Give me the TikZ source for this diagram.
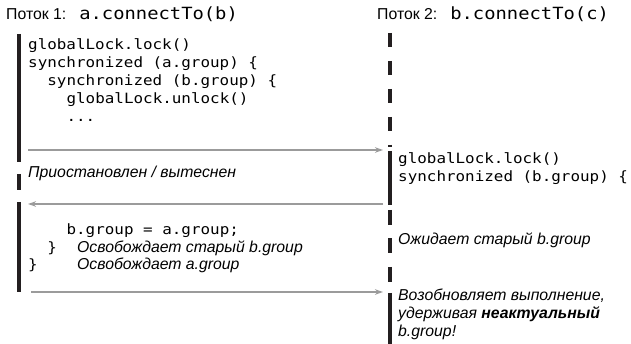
\documentclass[tikz,border=0pt]{standalone}
\usepackage{fontspec}
\setmainfont{Liberation Sans}
\newfontfamily\codef[FakeStretch=1.12]{DejaVu Sans Mono}
\usetikzlibrary{arrows.meta}
\definecolor{barc}{RGB}{35,31,32}
\definecolor{arrc}{RGB}{155,155,155}
\begin{document}
\begin{tikzpicture}[x=1pt,y=-1pt,
  txt/.style={inner sep=0pt, anchor=base west, font=\fontsize{15.8}{18}\selectfont},
  lbl/.style={inner sep=0pt, anchor=base west, font=\fontsize{15.8}{18}\selectfont\itshape},
  code/.style={inner sep=0pt, anchor=base west, font=\fontsize{14.2}{18}\selectfont\codef},
  bar/.style={line width=4pt, draw=barc},
  dbar/.style={bar, dash pattern=on 14pt off 14pt},
  msg/.style={line width=2.7pt, draw=arrc, -{Stealth[length=8pt,width=5.5pt]}}]
\useasboundingbox (0,0) rectangle (631,344);
% titles
\node[txt] (t1) at (6,20) {Поток 1:\hspace{13pt}{\fontsize{16.8}{18}\selectfont\codef a.connectTo(b)}};
\node[txt] (t2) at (377,20) {Поток 2:\hspace{13pt}{\fontsize{16.8}{18}\selectfont\codef b.connectTo(c)}};
% thread 1 lifeline
\coordinate (a1) at (19,34);  \coordinate (a2) at (19,162);
\coordinate (a3) at (19,174); \coordinate (a4) at (19,190);
\coordinate (a5) at (19,202); \coordinate (a6) at (19,292);
\draw[bar] (a1) -- (a2);
\draw[bar] (a3) -- (a4);
\draw[bar] (a5) -- (a6);
% thread 2 lifeline
\coordinate (b1) at (390,33);  \coordinate (b2) at (390,147);
\coordinate (b3) at (390,151); \coordinate (b4) at (390,205);
\coordinate (b5) at (390,210); \coordinate (b6) at (390,282);
\coordinate (b7) at (390,293); \coordinate (b8) at (390,344);
\draw[dbar] (b1) -- (b2);
\draw[bar] (b3) -- (b4);
\draw[bar, dash pattern=on 15pt off 13.5pt] (b5) -- (b6);
\draw[bar] (b7) -- (b8);
% thread 1 code
\node[code] (c1) at (28,50) {globalLock.lock()};
\node[code] (c2) at (28,68) {synchronized (a.group) \{};
\node[code] (c3) at (47.2,86) {synchronized (b.group) \{};
\node[code] (c4) at (66.4,104) {globalLock.unlock()};
\node[code] (c5) at (66.4,122) {...};
% arrows
\coordinate (m1s) at (28,150);  \coordinate (m1e) at (383,150);
\coordinate (m2s) at (383,204); \coordinate (m2e) at (28,204);
\coordinate (m3s) at (31,292);  \coordinate (m3e) at (383,292);
\draw[msg] (m1s) -- (m1e);
\draw[msg] (m2s) -- (m2e);
\draw[msg] (m3s) -- (m3e);
% suspended label
\node[lbl] (s1) at (28,178) {Приостановлен / вытеснен};
% thread 2 code
\node[code] (d1) at (398,164) {globalLock.lock()};
\node[code] (d2) at (398,182) {synchronized (b.group) \{};
% thread 1 lower code
\node[code] (e1) at (66.4,235) {b.group = a.group;};
\node[code] (e2) at (47.2,253) {\}};
\node[lbl]  (e2l) at (77,253) {Освобождает старый b.group};
\node[code] (e3) at (28,270) {\}};
\node[lbl]  (e3l) at (77,270) {Освобождает a.group};
% thread 2 labels
\node[lbl] (w1) at (398,245) {Ожидает старый b.group};
\node[lbl] (r1) at (398,300) {Возобновляет выполнение,};
\node[lbl] (r2) at (398,318) {удерживая \textbf{неактуальный}};
\node[lbl] (r3) at (398,336) {b.group!};
\end{tikzpicture}
\end{document}
